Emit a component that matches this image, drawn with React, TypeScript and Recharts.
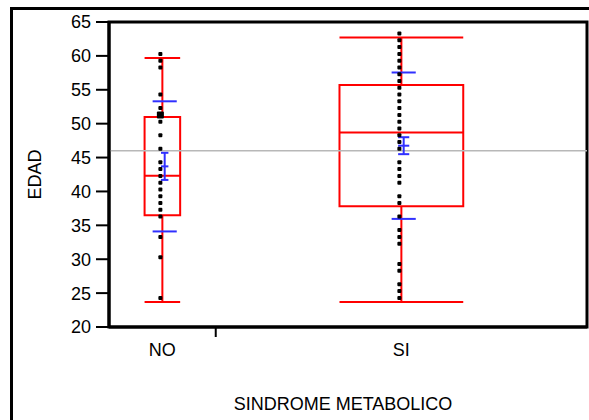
import {
  ComposedChart,
  ReferenceArea,
  ReferenceLine,
  Scatter,
  XAxis,
  YAxis,
} from "recharts";

// Grupos y número de casos (el ancho de cada columna es proporcional a n)
const grupos = ["NO", "SI"];
const nGrupo = [23, 80];

// Diagrama de caja por grupo
const minimo = [23.7, 23.7];
const cuartil1 = [36.5, 37.8];
const mediana = [42.3, 48.7];
const cuartil3 = [51.0, 55.7];
const maximo = [59.7, 62.7];

// Media, desviación estándar y error estándar de la media
const media = [43.7, 46.75];
const desvEst = [9.6, 10.8];
const errEst = [2.0, 1.25];
const mediaGeneral = 46.0;

// Edades observadas en cada grupo
const edadNO = [
  60, 59, 58, 54, 52, 51, 51, 51, 50, 48, 46, 44, 43, 42, 41, 40, 39, 38, 37,
  36, 33, 30, 24,
];
const edadSI = [
  63, 62, 61, 60, 59, 58, 57, 56, 55, 54, 53, 52, 51, 50, 49, 48, 47, 46, 44,
  43, 42, 41, 39, 38, 36, 34, 33, 32, 29, 28, 26, 25, 24,
];

const edadTicks = [20, 25, 30, 35, 40, 45, 50, 55, 60, 65];

const ROJO = "#ff0000";
const AZUL = "#3030ff";
const GRIS = "#b8b8b8";
const FUENTE = "'Liberation Sans', Arial, sans-serif";

// medias anchuras de las marcas azules (unidades del eje x)
const semiDE = 2.6;
const semiEE = [0.8, 1.2];
const desplAzul = 0.5;

const total = nGrupo.reduce((a, b) => a + b, 0);
const inicio = nGrupo.map((_, i) =>
  nGrupo.slice(0, i).reduce((a, b) => a + b, 0)
);
const centro = nGrupo.map((n, i) => inicio[i] + n / 2);
const limites = inicio.slice(1);
const ticksX = [...centro, ...limites].sort((a, b) => a - b);

function puntos(edades: number[], c: number) {
  const cuenta = new Map<number, number>();
  edades.forEach((e) => cuenta.set(e, (cuenta.get(e) ?? 0) + 1));
  return [...cuenta].map(([edad, k]) => ({ x: c, y: edad, k }));
}

const puntosNO = puntos(edadNO, centro[0]);
const puntosSI = puntos(edadSI, centro[1]);

function Marca(props: any) {
  const { cx, cy, payload } = props;
  const s = payload.k > 1 ? 7 : 4;
  return (
    <rect
      x={cx - 2 - s / 2}
      y={cy - 2 - s / 2}
      width={s}
      height={s}
      rx={1}
      fill="#000"
    />
  );
}

// En el eje x: raya en el límite entre grupos, nombre en el centro de cada grupo
function TickGrupo(props: any) {
  const { x, y, payload } = props;
  const i = centro.indexOf(payload.value);
  if (i < 0) {
    return (
      <line x1={x} x2={x} y1={y} y2={y + 10} stroke="#000" strokeWidth={2} />
    );
  }
  return (
    <text
      x={x}
      y={y + 16}
      dy="0.71em"
      textAnchor="middle"
      fill="#000"
      fontSize={18}
      fontFamily={FUENTE}
    >
      {grupos[i]}
    </text>
  );
}

function segmento(
  key: string,
  x1: number,
  y1: number,
  x2: number,
  y2: number,
  color: string
) {
  return (
    <ReferenceLine
      key={key}
      segment={[
        { x: x1, y: y1 },
        { x: x2, y: y2 },
      ]}
      stroke={color}
      strokeWidth={2}
    />
  );
}

function cajas() {
  return grupos.flatMap((g, i) => {
    const c = centro[i];
    const a = nGrupo[i] / 6;
    return [
      <ReferenceArea
        key={`${g}-caja`}
        x1={c - a}
        x2={c + a}
        y1={cuartil1[i]}
        y2={cuartil3[i]}
        fill="none"
        stroke={ROJO}
        strokeWidth={2}
      />,
      segmento(`${g}-med`, c - a, mediana[i], c + a, mediana[i], ROJO),
      segmento(`${g}-bs`, c, cuartil3[i], c, maximo[i], ROJO),
      segmento(`${g}-bi`, c, minimo[i], c, cuartil1[i], ROJO),
      segmento(`${g}-max`, c - a, maximo[i], c + a, maximo[i], ROJO),
      segmento(`${g}-min`, c - a, minimo[i], c + a, minimo[i], ROJO),
    ];
  });
}

function medias() {
  return grupos.flatMap((g, i) => {
    const c = centro[i] + desplAzul;
    const m = media[i];
    const e = semiEE[i];
    return [
      segmento(`${g}-de+`, c - semiDE, m + desvEst[i], c + semiDE, m + desvEst[i], AZUL),
      segmento(`${g}-de-`, c - semiDE, m - desvEst[i], c + semiDE, m - desvEst[i], AZUL),
      segmento(`${g}-ee`, c, m - errEst[i], c, m + errEst[i], AZUL),
      segmento(`${g}-ee+`, c - e, m + errEst[i], c + e, m + errEst[i], AZUL),
      segmento(`${g}-m`, c - e, m, c + e, m, AZUL),
      segmento(`${g}-ee-`, c - e, m - errEst[i], c + e, m - errEst[i], AZUL),
    ];
  });
}

export default function App() {
  return (
    <div
      style={{
        position: "fixed",
        left: 0,
        top: 0,
        width: 589,
        height: 420,
        overflow: "hidden",
        background: "#fff",
      }}
    >
      <div
        style={{
          position: "absolute",
          left: 10,
          top: 7,
          width: 700,
          height: 500,
          border: "3px solid #000",
        }}
      />
      <div style={{ position: "absolute", left: 0, top: 0 }}>
        <ComposedChart
          width={589}
          height={420}
          margin={{ top: 22, right: 2, bottom: 0, left: 0 }}
        >
          <XAxis
            type="number"
            dataKey="x"
            domain={[0, total]}
            ticks={ticksX}
            interval={0}
            tick={<TickGrupo />}
            tickSize={0}
            tickMargin={0}
            tickLine={false}
            axisLine={{ stroke: "#000", strokeWidth: 3 }}
            height={93}
            allowDataOverflow
            label={{
              value: "SINDROME METABOLICO",
              position: "insideBottom",
              offset: 10,
              dx: -5,
              fill: "#000",
              fontSize: 18,
              fontFamily: FUENTE,
            }}
          />
          <YAxis
            type="number"
            dataKey="y"
            domain={[20, 65]}
            ticks={edadTicks}
            interval={0}
            width={109}
            tickSize={13}
            tickMargin={5}
            tick={{ fill: "#000", fontSize: 18, fontFamily: FUENTE }}
            tickLine={{ stroke: "#000", strokeWidth: 2 }}
            axisLine={{ stroke: "#000", strokeWidth: 3 }}
            allowDataOverflow
            label={{
              content: (p: any) => {
                const vb = p.viewBox ?? { x: 0, y: 22, width: 109, height: 305 };
                const x = vb.x + 41;
                const y = vb.y + vb.height / 2;
                return (
                  <text
                    x={x}
                    y={y}
                    transform={`rotate(-90 ${x} ${y})`}
                    textAnchor="middle"
                    fill="#000"
                    fontSize={18}
                    fontFamily={FUENTE}
                  >
                    EDAD
                  </text>
                );
              },
            }}
          />
          <ReferenceLine y={mediaGeneral} stroke={GRIS} strokeWidth={1.5} />
          {cajas()}
          {medias()}
          <Scatter
            data={puntosNO}
            shape={Marca}
            isAnimationActive={false}
          />
          <Scatter
            data={puntosSI}
            shape={Marca}
            isAnimationActive={false}
          />
          <ReferenceArea
            x1={0}
            x2={total}
            y1={20}
            y2={65}
            fill="none"
            stroke="#000"
            strokeWidth={3}
          />
        </ComposedChart>
      </div>
    </div>
  );
}
